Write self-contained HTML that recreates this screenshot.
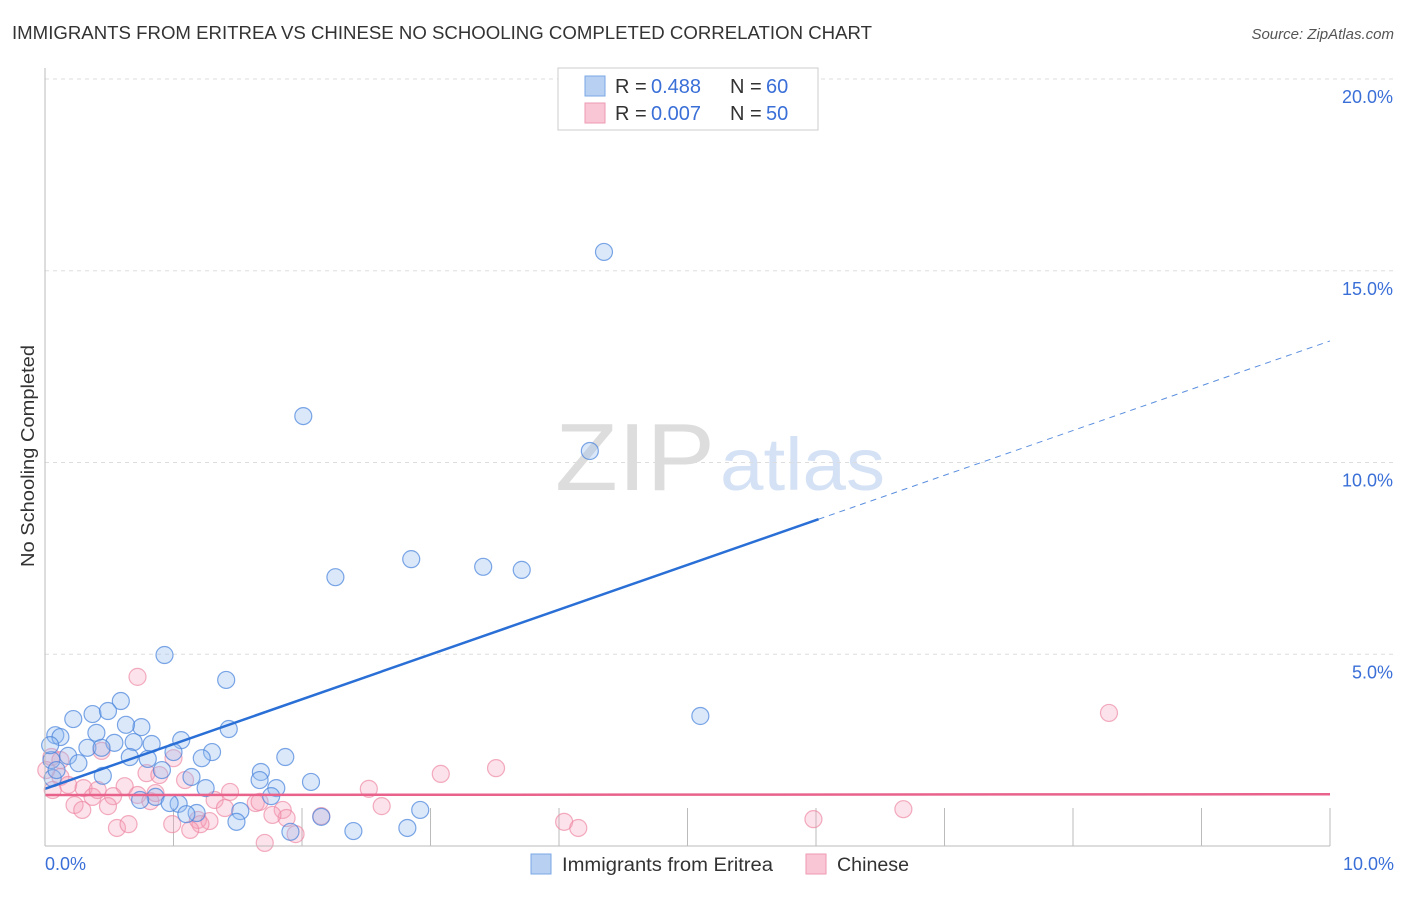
<!DOCTYPE html>
<html><head><meta charset="utf-8"><style>
body{margin:0;background:#fff;font-family:"Liberation Sans",sans-serif}
svg text{font-family:"Liberation Sans",sans-serif}
</style></head><body>
<svg width="1406" height="892">
<text x="12" y="39" font-size="18" fill="#333" textLength="860" lengthAdjust="spacingAndGlyphs">IMMIGRANTS FROM ERITREA VS CHINESE NO SCHOOLING COMPLETED CORRELATION CHART</text>
<text x="1394" y="39" font-size="15" fill="#555" font-style="italic" text-anchor="end">Source: ZipAtlas.com</text>
<text x="34" y="456" font-size="18" fill="#333" text-anchor="middle" textLength="222" lengthAdjust="spacingAndGlyphs" transform="rotate(-90 34 456)">No Schooling Completed</text>
<text x="555" y="490" font-size="96" fill="#ddd" textLength="160" lengthAdjust="spacingAndGlyphs" font-family="Liberation Serif">ZIP</text>
<text x="720" y="490" font-size="74" fill="#d5e2f5" textLength="165" lengthAdjust="spacingAndGlyphs">atlas</text>
<g id="grid"></g>
<g id="pts"></g>
<g id="trend"></g>
<line x1="45" y1="68" x2="45" y2="846" stroke="#bbb"/>
<line x1="45" y1="846" x2="1330" y2="846" stroke="#bbb"/>
<text x="45" y="870" font-size="18" fill="#3a6fd8">0.0%</text>
<text x="1394" y="870" font-size="18" fill="#3a6fd8" text-anchor="end">10.0%</text>
<g>
<rect x="558" y="68" width="260" height="62" fill="#fff" stroke="#ccc"/>
<rect x="585" y="76" width="20" height="20" fill="#b8d1f3" stroke="#7aa7e6"/>
<rect x="585" y="103" width="20" height="20" fill="#f8c6d4" stroke="#ee9ab3"/>
<text x="615" y="93" font-size="20" fill="#333">R =</text>
<text x="651" y="93" font-size="20" fill="#3a6fd8">0.488</text>
<text x="730" y="93" font-size="20" fill="#333">N =</text>
<text x="766" y="93" font-size="20" fill="#3a6fd8">60</text>
<text x="615" y="120" font-size="20" fill="#333">R =</text>
<text x="651" y="120" font-size="20" fill="#3a6fd8">0.007</text>
<text x="730" y="120" font-size="20" fill="#333">N =</text>
<text x="766" y="120" font-size="20" fill="#3a6fd8">50</text>
</g>
<g>
<rect x="531" y="854" width="20" height="20" fill="#b8d1f3" stroke="#7aa7e6"/>
<text x="562" y="871" font-size="19" fill="#333" textLength="211" lengthAdjust="spacingAndGlyphs">Immigrants from Eritrea</text>
<rect x="806" y="854" width="20" height="20" fill="#f8c6d4" stroke="#ee9ab3"/>
<text x="837" y="871" font-size="19" fill="#333" textLength="72" lengthAdjust="spacingAndGlyphs">Chinese</text>
</g>
</svg>
<script>
const yTicks=[5,10,15,20];
const yTickLabels=["5.0%","10.0%","15.0%","20.0%"];
const xTicks=[1,2,3,4,5,6,7,8,9,10];
const eritreaX=[4.35,2.01,4.24,2.26,2.85,3.41,3.71,0.93,1.41,5.10,0.59,0.22,0.37,0.49,0.75,0.63,1.43,0.08,0.12,0.40,1.06,0.83,0.69,0.54,0.33,0.44,1.30,0.66,0.80,1.00,0.18,1.22,0.05,0.26,1.87,0.91,0.45,1.14,1.68,0.06,2.07,1.80,1.25,0.86,0.74,1.04,1.76,1.18,1.10,1.52,1.49,2.92,2.15,1.91,2.40,2.82,0.04,0.09,0.97,1.67];
const eritreaY=[15.49,11.21,10.30,7.01,7.48,7.28,7.20,4.98,4.33,3.39,3.78,3.31,3.44,3.52,3.10,3.16,3.05,2.89,2.84,2.95,2.76,2.66,2.71,2.69,2.56,2.56,2.45,2.32,2.27,2.45,2.35,2.29,2.24,2.16,2.32,1.98,1.83,1.80,1.93,1.77,1.67,1.51,1.51,1.28,1.20,1.10,1.30,0.86,0.83,0.91,0.63,0.94,0.76,0.37,0.39,0.47,2.63,1.98,1.12,1.72];
const chineseX=[0.72,8.28,0.44,1.00,0.05,0.12,0.18,0.30,0.79,0.89,0.62,1.09,3.51,3.08,2.52,1.44,1.32,1.64,1.67,2.62,1.85,2.15,0.53,0.37,0.72,0.23,0.29,0.82,6.68,5.98,4.04,4.15,1.19,1.28,0.99,1.21,1.88,1.77,1.13,0.56,0.65,1.71,1.95,0.86,0.41,0.06,1.40,0.49,0.01,0.12];
const chineseY=[4.41,3.47,2.48,2.29,2.32,1.80,1.59,1.51,1.90,1.85,1.56,1.72,2.03,1.88,1.49,1.41,1.20,1.12,1.15,1.04,0.94,0.78,1.30,1.28,1.33,1.07,0.94,1.17,0.96,0.70,0.63,0.47,0.68,0.65,0.57,0.57,0.73,0.81,0.42,0.47,0.57,0.08,0.31,1.38,1.46,1.46,0.99,1.04,1.98,2.24];
const eritreaTrend=[1.49,13.17];
const eritreaSolidEnd=6.02;
const chineseTrend=[1.33,1.35];
const NS="http://www.w3.org/2000/svg";
const sx=v=>45+v*128.5, sy=v=>846-v*38.35;
function mk(t,a,p){const e=document.createElementNS(NS,t);for(const k in a)e.setAttribute(k,a[k]);p.appendChild(e);return e;}
const grid=document.getElementById('grid');
yTicks.forEach((t,i)=>{
 const l=mk('line',{x1:45,x2:1394,y1:sy(t),y2:sy(t),stroke:'#ddd','stroke-dasharray':'4,4'},grid);
 
 
 const tx=mk('text',{x:1393,y:sy(t)+24,'font-size':18,fill:'#3a6fd8','text-anchor':'end'},grid);
 tx.textContent=yTickLabels[i];
 
 
});
xTicks.forEach(t=>{
 const l=mk('line',{x1:sx(t),x2:sx(t),y1:808,y2:846,stroke:'#bbb'},grid);
 
 
});
const pts=document.getElementById('pts');
chineseX.forEach((x,i)=>{
 const c=mk('circle',{cx:sx(x),cy:sy(chineseY[i]),r:8.5,fill:'rgba(244,160,186,0.3)',stroke:'rgba(236,130,160,0.65)','stroke-width':1.2},pts);
 
 
});
eritreaX.forEach((x,i)=>{
 const c=mk('circle',{cx:sx(x),cy:sy(eritreaY[i]),r:8.5,fill:'rgba(150,190,240,0.35)',stroke:'rgba(70,130,220,0.7)','stroke-width':1.2},pts);
 
 
});
const tr=document.getElementById('trend');
const yAt=x=>eritreaTrend[0]+(eritreaTrend[1]-eritreaTrend[0])*x/10;
let l=mk('line',{x1:sx(0),y1:sy(yAt(0)),x2:sx(eritreaSolidEnd),y2:sy(yAt(eritreaSolidEnd)),stroke:'#2a6fd6','stroke-width':2.5},tr);


l=mk('line',{x1:sx(eritreaSolidEnd),y1:sy(yAt(eritreaSolidEnd)),x2:sx(10),y2:sy(yAt(10)),stroke:'#5b8fdf','stroke-width':1,'stroke-dasharray':'6,5'},tr);


l=mk('line',{x1:sx(0),y1:sy(chineseTrend[0]),x2:sx(10),y2:sy(chineseTrend[1]),stroke:'#e8628c','stroke-width':2.5},tr);


</script>
</body></html>
